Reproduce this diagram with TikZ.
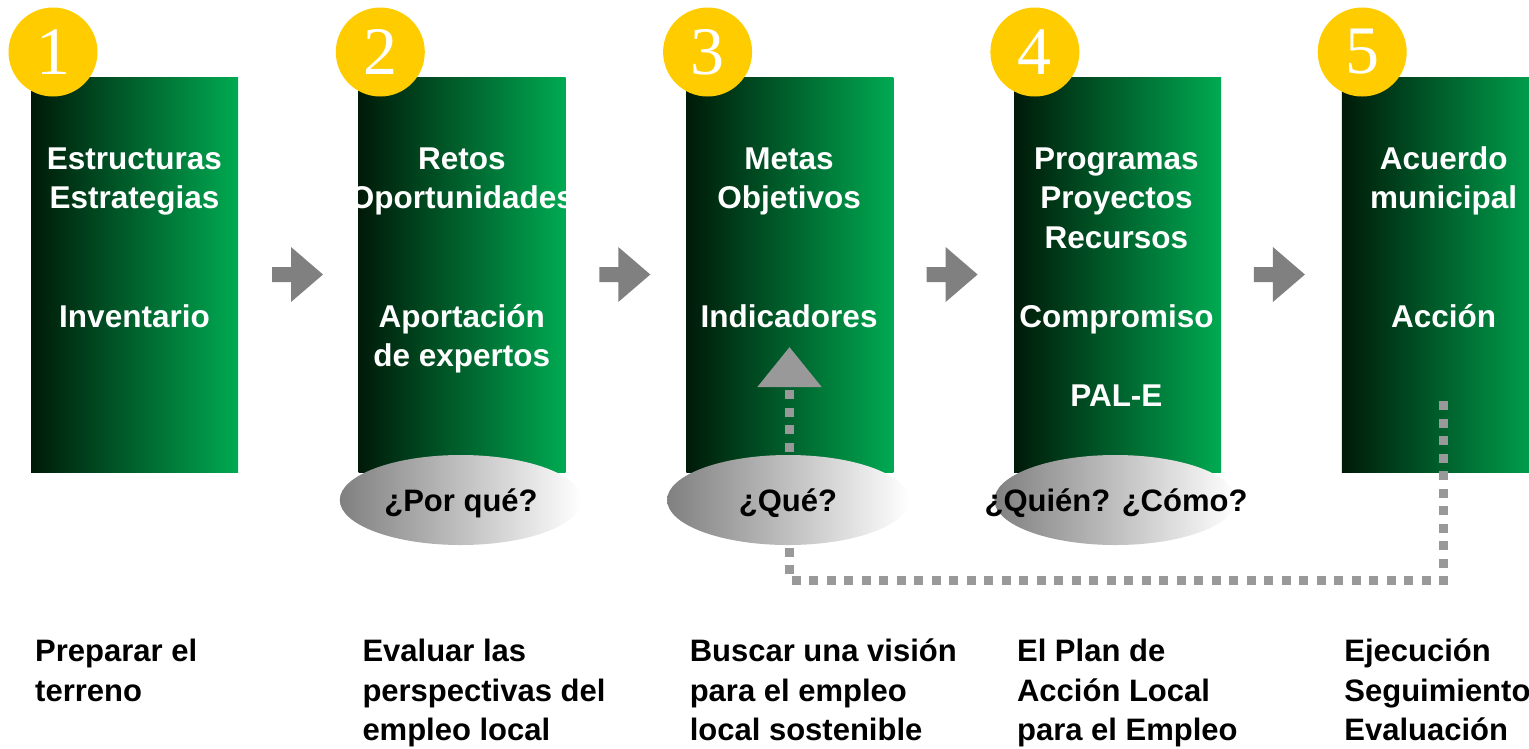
\documentclass[tikz,border=0pt]{standalone}
\usepackage{fontspec}
\setmainfont{Liberation Sans}
\newfontfamily\digitfont{Liberation Serif}
\usetikzlibrary{positioning,shapes.geometric,arrows.meta}
\definecolor{stepyellow}{RGB}{255,204,0}
\definecolor{greendark}{RGB}{0,26,8}
\definecolor{greenlight}{RGB}{0,170,82}
\definecolor{arrowgray}{RGB}{128,128,128}
\definecolor{loopgray}{RGB}{153,153,153}
\definecolor{ovalgray}{RGB}{128,128,128}

\begin{document}
\begin{tikzpicture}[x=1pt, y=-1pt, node distance=120.3pt,
    panel/.style = {minimum width=207pt, minimum height=395pt, inner sep=0pt, left color=greendark, right color=greenlight},
    badge/.style = {circle, fill=stepyellow, minimum size=89pt, inner sep=0pt, text=white, font=\digitfont\fontsize{68}{68}\selectfont},
    intext/.style = {anchor=base, align=center, inner sep=0pt, text=white, font=\bfseries\fontsize{31.5}{39.5}\selectfont},
    oval/.style = {ellipse, minimum width=242pt, minimum height=90pt, inner sep=0pt, left color=ovalgray, right color=white},
    ovaltext/.style = {anchor=base, inner sep=0pt, font=\bfseries\fontsize{31}{39.5}\selectfont},
    caption/.style = {anchor=base west, align=left, inner sep=0pt, font=\bfseries\fontsize{31}{39.5}\selectfont},
    blockarrow/.style = {fill=arrowgray},
    loopline/.style = {draw=loopgray, line width=9pt, dash pattern=on 9pt off 8.5pt, -{Triangle[width=62pt, length=40pt]}}]
    \useasboundingbox (0,0) rectangle (1529,748);

    % green panels
    \node[panel] (rectA) at (134.5,274.5) {};
    \node[panel] (rectB) [right=of rectA] {};
    \node[panel] (rectC) [right=of rectB] {};
    \node[panel] (rectD) [right=of rectC] {};
    \node[panel] (rectE) [right=of rectD] {};

    % numbers
    \node[badge] (numA) at (53,52) {1};
    \node[badge] (numB) at (380.3,52) {2};
    \node[badge] (numC) at (707.6,52) {3};
    \node[badge] (numD) at (1034.9,52) {4};
    \node[badge] (numE) at (1362.2,52) {5};

    % texts in the panels (placed at the baseline of their last line)
    \node[intext] (topA) at (134.5,208.5) {Estructuras\\Estrategias};
    \node[intext] (lowA) at (134.5,327) {Inventario};
    \node[intext] (topB) at (461.8,208.5) {Retos\\Oportunidades};
    \node[intext] (lowB) at (461.8,366.5) {Aportación\\de expertos};
    \node[intext] (topC) at (789.1,208.5) {Metas\\Objetivos};
    \node[intext] (lowC) at (789.1,327) {Indicadores};
    \node[intext] (topD) at (1116.4,248) {Programas\\Proyectos\\Recursos};
    \node[intext] (lowD) at (1116.4,406) {Compromiso\\[39.5pt]PAL-E};
    \node[intext] (topE) at (1443.7,208.5) {Acuerdo\\municipal};
    \node[intext] (lowE) at (1443.7,327) {Acción};

    % arrows between the panels
    \fill[blockarrow] (272,267) -- ++(19,0) -- ++(0,-20) -- ++(32,27.5) -- ++(-32,27.5) -- ++(0,-20) -- ++(-19,0) -- cycle;
    \fill[blockarrow] (599.3,267) -- ++(19,0) -- ++(0,-20) -- ++(32,27.5) -- ++(-32,27.5) -- ++(0,-20) -- ++(-19,0) -- cycle;
    \fill[blockarrow] (926.6,267) -- ++(19,0) -- ++(0,-20) -- ++(32,27.5) -- ++(-32,27.5) -- ++(0,-20) -- ++(-19,0) -- cycle;
    \fill[blockarrow] (1253.9,267) -- ++(19,0) -- ++(0,-20) -- ++(32,27.5) -- ++(-32,27.5) -- ++(0,-20) -- ++(-19,0) -- cycle;

    % feedback loop
    \coordinate (loopstart) at (1443.5,401);
    \coordinate (loopturn) at (789.5,580.5);
    \coordinate (tipend) at (789.5,347);
    \draw[loopline] (loopstart) |- (loopturn) -- (tipend);

    % questions
    \node[oval] (ovalB) at (460.8,500) {};
    \node[oval] (ovalC) at (788.1,500) {};
    \node[oval] (ovalD) at (1115.4,500) {};
    \node[ovaltext] (askB) at (461,511) {¿Por qué?};
    \node[ovaltext] (askC) at (788,511) {¿Qué?};
    \node[ovaltext] (askD) at (1116,511) {¿Quién? ¿Cómo?};

    % captions
    \node[caption] (capA) at (35,701) {Preparar el\\terreno};
    \node[caption] (capB) at (362.3,740.5) {Evaluar las\\perspectivas del\\empleo local};
    \node[caption] (capC) at (689.6,740.5) {Buscar una visión\\para el empleo\\local sostenible};
    \node[caption] (capD) at (1016.9,740.5) {El Plan de\\Acción Local\\para el Empleo};
    \node[caption] (capE) at (1344.2,740.5) {Ejecución\\Seguimiento\\Evaluación};
\end{tikzpicture}
\end{document}
